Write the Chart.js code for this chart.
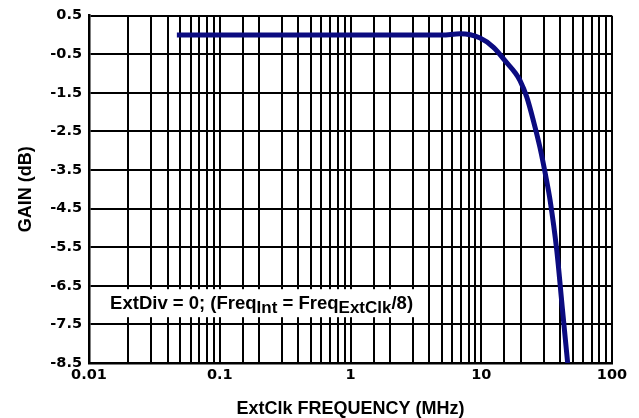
<!DOCTYPE html>
<html lang="en">
<head>
    <meta charset="UTF-8">
    <script src="https://cdn.jsdelivr.net/npm/chart.js@4.4.1/dist/chart.umd.min.js"></script>
    <title>Gain vs ExtClk Frequency</title>
    <style>
        body { margin: 0; background: #fff; }
        #wrap { width: 639px; height: 418px; }
    </style>
</head>
<body>
    <div id="wrap"><canvas id="myChart" width="639" height="418"></canvas></div>
    <script>
        // frequency in MHz, gain in dB
        var freqMHz = [0.047, 0.1, 0.5, 1, 3, 5, 6.9, 9.8, 12.4, 15.6, 18.1, 19.8, 22.3, 25, 28.1, 31.6, 33.6, 37.8, 41.6, 45.8];
        var gainDb  = [0.0, 0.0, 0.0, 0.0, 0.0, 0.0, 0.03, -0.08, -0.32, -0.71, -0.97, -1.18, -1.61, -2.21, -2.91, -3.77, -4.28, -5.58, -7.04, -8.5];

        var xTitle = 'ExtClk FREQUENCY (MHz)';
        var yTitle = 'GAIN (dB)';

        var points = []
        for (var i = 0; i < freqMHz.length; i++) {
            points.push({ x: freqMHz[i], y: gainDb[i] });
        }

        var arial = '"Liberation Sans", Arial, sans-serif';
        var wide = '"DejaVu Sans", sans-serif';

        // text box "ExtDiv = 0; (FreqInt = FreqExtClk/8)" with subscripts
        var notePlugin = {
            id: 'note',
            afterDraw: function (chart) {
                var ctx = chart.ctx;
                var x = chart.scales.x.getPixelForValue(0.0145);
                var y = chart.scales.y.getPixelForValue(-6.95);
                var big = 'bold 18.5px ' + arial;
                var small = 'bold 17px ' + arial;
                var parts = [
                    ['ExtDiv = 0; (Freq', big, 0],
                    ['Int', small, 4],
                    [' = Freq', big, 0],
                    ['ExtClk', small, 4],
                    ['/8)', big, 0]
                ];
                ctx.save();
                var w = 0;
                parts.forEach(function (p) { ctx.font = p[1]; w += ctx.measureText(p[0]).width; });
                ctx.fillStyle = '#fff';
                ctx.fillRect(x - 11, y - 14, w + 18, 28);
                ctx.fillStyle = '#000';
                ctx.textBaseline = 'alphabetic';
                var cx = x;
                parts.forEach(function (p) {
                    ctx.font = p[1];
                    ctx.fillText(p[0], cx, y + 6 + p[2]);
                    cx += ctx.measureText(p[0]).width;
                });
                ctx.restore();
            }
        };

        var ctx = document.getElementById('myChart').getContext('2d');
        var chart = new Chart(ctx, {
            type: 'line',
            data: {
                datasets: [{
                    data: points,
                    borderColor: '#0b0b80',
                    borderWidth: 5,
                    pointRadius: 0,
                    cubicInterpolationMode: 'monotone',
                    fill: false
                }]
            },
            options: {
                responsive: false,
                animation: false,
                layout: { padding: { top: 15, right: 27, left: 0, bottom: 0 } },
                plugins: {
                    legend: { display: false },
                    tooltip: { enabled: false }
                },
                scales: {
                    x: {
                        type: 'logarithmic',
                        min: 0.01,
                        max: 100,
                        afterFit: function (scale) { scale.height = 55; },
                        border: { color: '#000', width: 2.5 },
                        grid: { color: '#000', lineWidth: 2, drawTicks: false },
                        ticks: {
                            autoSkip: false,
                            maxRotation: 0,
                            padding: 4,
                            color: '#000',
                            font: { family: wide, size: 14.5, weight: 'bold' },
                            callback: function (v) {
                                var l = Math.log10(v);
                                if (Math.abs(l - Math.round(l)) < 1e-6) {
                                    return String(Number(v.toPrecision(1)));
                                }
                                return '';
                            }
                        },
                        title: {
                            display: true,
                            text: xTitle,
                            color: '#000',
                            padding: { top: 0, bottom: 0 },
                            font: { family: arial, size: 18, weight: 'bold', lineHeight: 1.0 }
                        }
                    },
                    y: {
                        min: -8.5,
                        max: 0.5,
                        afterFit: function (scale) { scale.width = 89; },
                        border: { color: '#000', width: 2.5 },
                        grid: { color: '#000', lineWidth: 2, drawTicks: false },
                        ticks: {
                            stepSize: 1,
                            padding: 7,
                            color: '#000',
                            font: { family: wide, size: 14.5, weight: 'bold' },
                            callback: function (v) { return v.toFixed(1); }
                        },
                        title: {
                            display: true,
                            text: yTitle,
                            color: '#000',
                            padding: { top: 15, bottom: 0 },
                            font: { family: arial, size: 18, weight: 'bold' }
                        }
                    }
                }
            },
            plugins: [notePlugin]
        });
    </script>
</body>
</html>
